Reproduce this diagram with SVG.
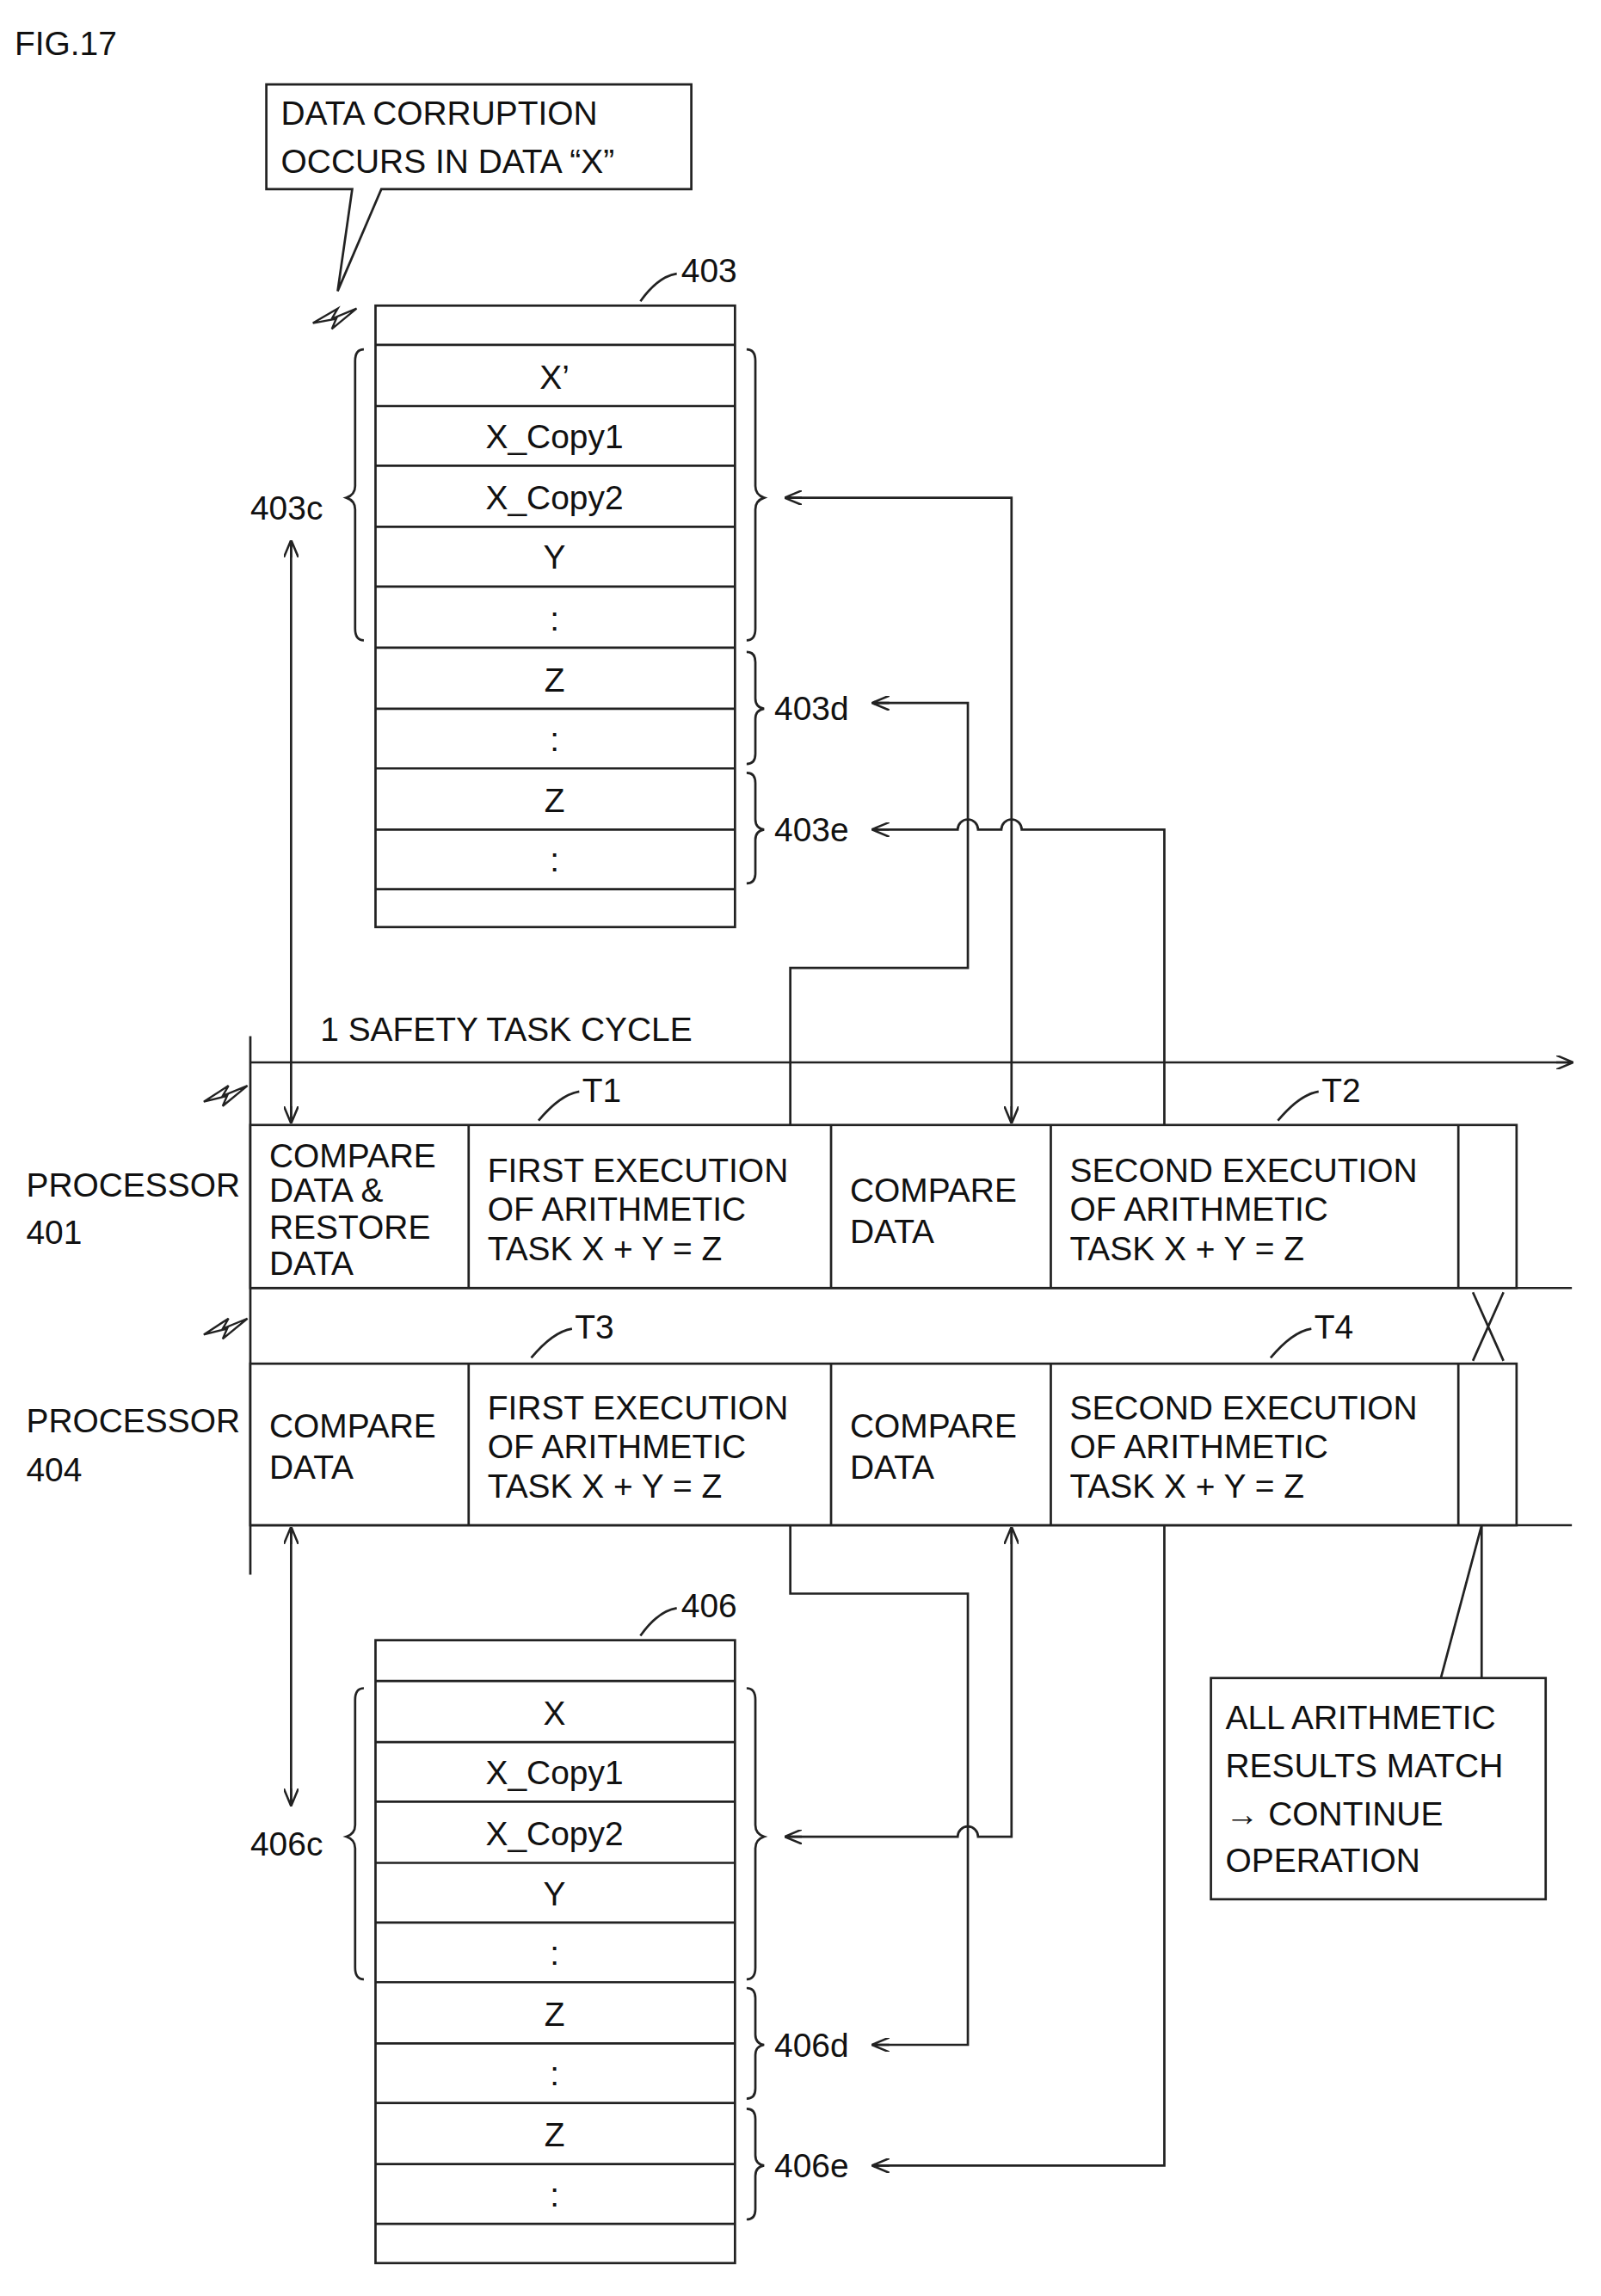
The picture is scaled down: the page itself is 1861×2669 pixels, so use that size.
<svg xmlns="http://www.w3.org/2000/svg" width="1861" height="2669" viewBox="0 0 1861 2669">
<defs>
<marker id="ah" viewBox="0 0 12 10" refX="11" refY="5" markerWidth="12" markerHeight="10" markerUnits="userSpaceOnUse" orient="auto-start-reverse"><path d="M0,0 L12,5 L0,10 M0,5 L12,5" fill="none" stroke="#222" stroke-width="1.5"/></marker>
</defs>
<style>
.s{fill:none;stroke:#222;stroke-width:1.6}
.b{fill:#fff;stroke:#222;stroke-width:1.6}
text{font-family:"Liberation Sans",Arial,sans-serif;font-size:23px;fill:#111}
.c{text-anchor:middle}
</style>
<rect width="1861" height="2669" fill="#fff"/>
<g transform="scale(1.6918)">
<text x="10" y="38" font-size="28">FIG.17</text>
<g id="callout1">
<path class="b" d="M183,58 H475 V130 H262 L232,200 L242,130 H183 Z"/>
<text x="193" y="86">DATA CORRUPTION</text>
<text x="193" y="119">OCCURS IN DATA “X”</text>
</g>
<g id="mem403">
<rect class="b" x="258" y="210" width="247" height="427"/>
<path class="s" d="M258,237H505M258,279H505M258,320H505M258,362H505M258,403H505M258,445H505M258,487H505M258,528H505M258,570H505M258,611H505"/>
<text class="c" x="381" y="267">X’</text><text class="c" x="381" y="308">X_Copy1</text><text class="c" x="381" y="350">X_Copy2</text><text class="c" x="381" y="391">Y</text><text class="c" x="381" y="433">:</text><text class="c" x="381" y="475">Z</text><text class="c" x="381" y="516">:</text><text class="c" x="381" y="558">Z</text><text class="c" x="381" y="599">:</text>
<path class="s" d="M440,207 Q452,190 465,188"/><text x="468" y="194">403</text>
<path class="s" d="M250,240 Q244,240 244,248 V334 Q244,340 238,342 Q244,344 244,350 V432 Q244,440 250,440"/>
<text x="172" y="357">403c</text>
<path class="s" d="M513,240 Q519,240 519,248 V334 Q519,340 525,342 Q519,344 519,350 V432 Q519,440 513,440"/>
<path class="s" d="M513,448 Q519,448 519,455 V480 Q519,486 525,487 Q519,488 519,494 V518 Q519,525 513,525"/>
<text x="532" y="495">403d</text>
<path class="s" d="M513,531 Q519,531 519,538 V563 Q519,569 525,570 Q519,571 519,577 V600 Q519,607 513,607"/>
<text x="532" y="578">403e</text>
<path d="M215,222 L232,212 L228,219 L245,212 L228,226 L231,219 Z" fill="#fff" stroke="#222" stroke-width="1.4"/>
</g>
<g id="mem406">
<rect class="b" x="258" y="1127" width="247" height="428"/>
<path class="s" d="M258,1155H505M258,1197H505M258,1238H505M258,1280H505M258,1321H505M258,1362H505M258,1404H505M258,1445H505M258,1487H505M258,1528H505"/>
<text class="c" x="381" y="1185">X</text><text class="c" x="381" y="1226">X_Copy1</text><text class="c" x="381" y="1268">X_Copy2</text><text class="c" x="381" y="1309">Y</text><text class="c" x="381" y="1350">:</text><text class="c" x="381" y="1392">Z</text><text class="c" x="381" y="1433">:</text><text class="c" x="381" y="1475">Z</text><text class="c" x="381" y="1516">:</text>
<path class="s" d="M440,1124 Q452,1107 465,1105"/><text x="468" y="1111">406</text>
<path class="s" d="M250,1160 Q244,1160 244,1168 V1254 Q244,1260 238,1262 Q244,1264 244,1270 V1352 Q244,1360 250,1360"/>
<text x="172" y="1275">406c</text>
<path class="s" d="M513,1160 Q519,1160 519,1168 V1254 Q519,1260 525,1262 Q519,1264 519,1270 V1352 Q519,1360 513,1360"/>
<path class="s" d="M513,1366 Q519,1366 519,1373 V1398 Q519,1404 525,1405 Q519,1406 519,1412 V1435 Q519,1442 513,1442"/>
<text x="532" y="1413">406d</text>
<path class="s" d="M513,1449 Q519,1449 519,1456 V1481 Q519,1487 525,1488 Q519,1489 519,1495 V1518 Q519,1525 513,1525"/>
<text x="532" y="1496">406e</text>
</g>
<g id="timeline">
<path class="s" d="M172,712 V1082"/>
<text x="220" y="715">1 SAFETY TASK CYCLE</text>
<path class="s" d="M172,730 H1080" marker-end="url(#ah)"/>
<path class="s" d="M172,885 H1080 M172,1048 H1080"/>
<path d="M140,757 L157,746 L153,753 L170,746 L153,760 L156,753 Z" fill="#fff" stroke="#222" stroke-width="1.4"/>
<path d="M140,917 L157,906 L153,913 L170,906 L153,920 L156,913 Z" fill="#fff" stroke="#222" stroke-width="1.4"/>
<path class="s" d="M1012,888 L1033,935 M1033,888 L1012,935"/>
</g>
<g id="proc401">
<text x="18" y="822">PROCESSOR</text><text x="18" y="855">401</text>
<rect class="b" x="172" y="773" width="870" height="112"/>
<path class="s" d="M322,773V885M571,773V885M722,773V885M1002,773V885"/>
<text x="185" y="802">COMPARE</text><text x="185" y="826">DATA &amp;</text><text x="185" y="851">RESTORE</text><text x="185" y="876">DATA</text>
<text x="335" y="812">FIRST EXECUTION</text><text x="335" y="839">OF ARITHMETIC</text><text x="335" y="866">TASK X + Y = Z</text>
<text x="584" y="826">COMPARE</text><text x="584" y="854">DATA</text>
<text x="735" y="812">SECOND EXECUTION</text><text x="735" y="839">OF ARITHMETIC</text><text x="735" y="866">TASK X + Y = Z</text>
<path class="s" d="M370,770 Q385,752 398,750"/><text x="400" y="757">T1</text>
<path class="s" d="M878,770 Q893,752 906,750"/><text x="908" y="757">T2</text>
</g>
<g id="proc404">
<text x="18" y="984">PROCESSOR</text><text x="18" y="1018">404</text>
<rect class="b" x="172" y="937" width="870" height="111"/>
<path class="s" d="M322,937V1048M571,937V1048M722,937V1048M1002,937V1048"/>
<text x="185" y="988">COMPARE</text><text x="185" y="1016">DATA</text>
<text x="335" y="975">FIRST EXECUTION</text><text x="335" y="1002">OF ARITHMETIC</text><text x="335" y="1029">TASK X + Y = Z</text>
<text x="584" y="988">COMPARE</text><text x="584" y="1016">DATA</text>
<text x="735" y="975">SECOND EXECUTION</text><text x="735" y="1002">OF ARITHMETIC</text><text x="735" y="1029">TASK X + Y = Z</text>
<path class="s" d="M365,933 Q380,915 393,913"/><text x="395" y="920">T3</text>
<path class="s" d="M873,933 Q888,915 901,913"/><text x="903" y="920">T4</text>
</g>
<g id="callout2">
<rect class="b" x="832" y="1153" width="230" height="152"/>
<path class="s" d="M990,1153 L1018,1048 L1018,1153"/>
<text x="842" y="1188">ALL ARITHMETIC</text><text x="842" y="1221">RESULTS MATCH</text><text x="842" y="1254">→ CONTINUE</text><text x="842" y="1286">OPERATION</text>
</g>
<g id="connectors">
<path class="s" d="M200,372 V771" marker-start="url(#ah)" marker-end="url(#ah)"/>
<path class="s" d="M540,342 H695 V771" marker-start="url(#ah)" marker-end="url(#ah)"/>
<path class="s" d="M600,483 H665 V665 H543 V773" marker-start="url(#ah)"/>
<path class="s" d="M600,570 H658 A7,7 0 0 1 672,570 H688 A7,7 0 0 1 702,570 H800 V773" marker-start="url(#ah)"/>
<path class="s" d="M200,1050 V1240" marker-start="url(#ah)" marker-end="url(#ah)"/>
<path class="s" d="M543,1048 V1095 H665 V1405 H600" marker-end="url(#ah)"/>
<path class="s" d="M540,1262 H658 A7,7 0 0 1 672,1262 H695 V1050" marker-start="url(#ah)" marker-end="url(#ah)"/>
<path class="s" d="M800,1048 V1488 H600" marker-end="url(#ah)"/>
</g>
</g>
</svg>
